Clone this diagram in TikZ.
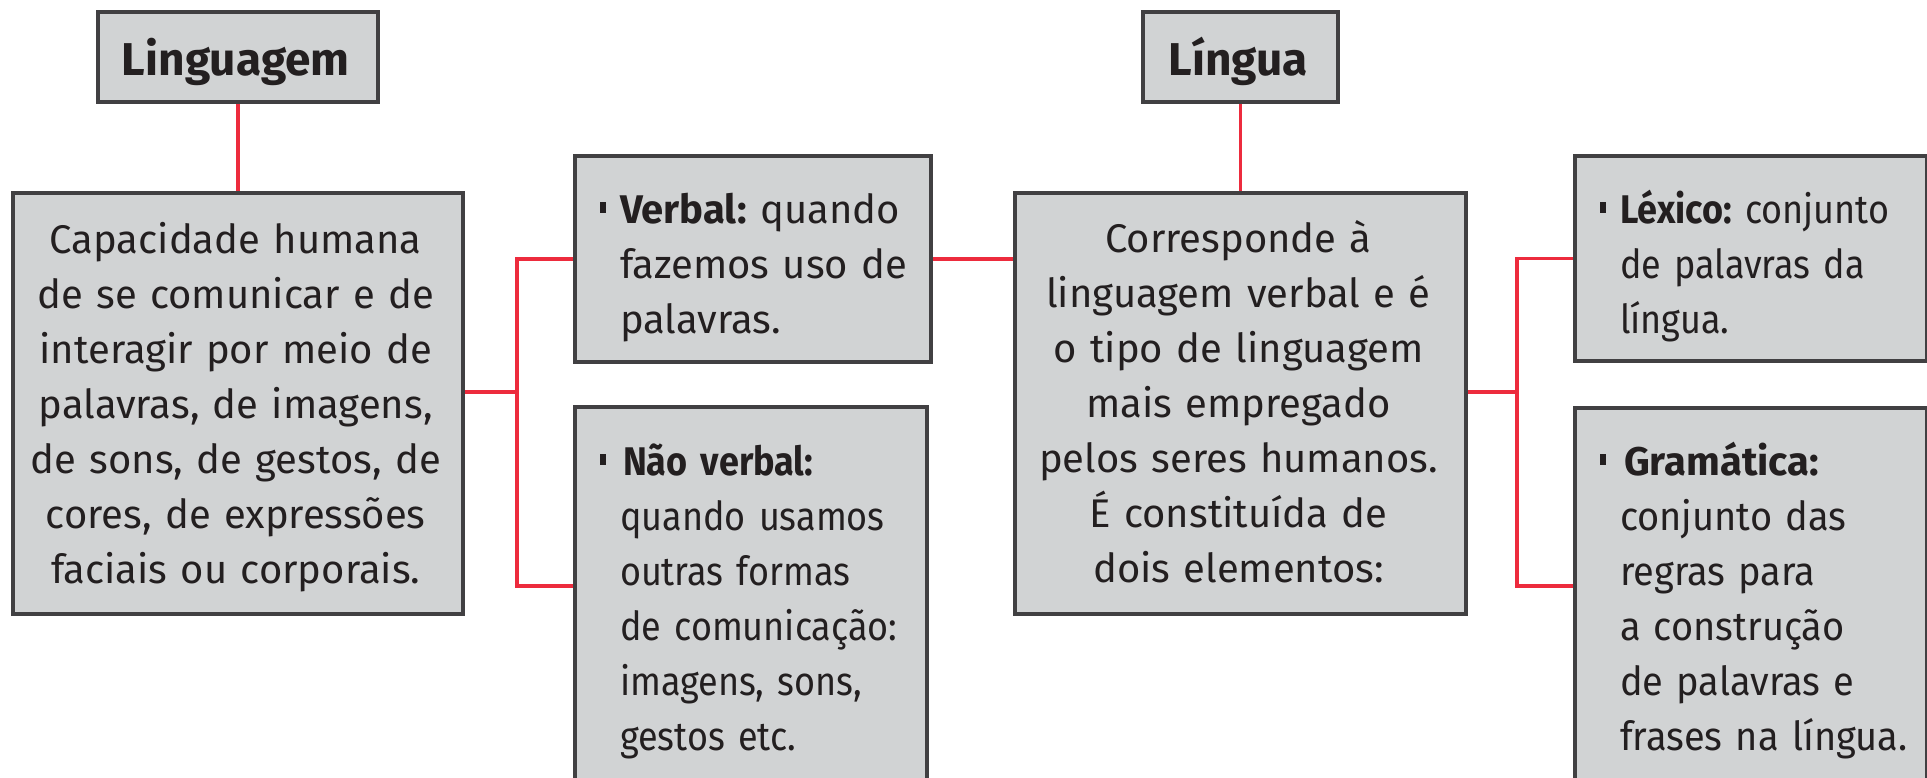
\documentclass[tikz,border=0pt]{standalone}
\usepackage{fontspec}
\setmainfont{Fira Sans}
\newfontfamily\condA[FakeStretch=0.9]{Fira Sans}
\newfontfamily\condB[FakeStretch=0.95]{Fira Sans}
\definecolor{boxfill}{RGB}{209,211,212}
\definecolor{boxline}{RGB}{65,64,66}
\definecolor{linkred}{RGB}{237,43,61}
\definecolor{ink}{RGB}{35,31,32}
\newcommand{\bul}{\llap{\raisebox{10pt}{\rule{6pt}{11pt}}\hspace{14pt}}}
\newcommand{\bmain}[1]{{\rmfamily\bfseries #1}}
\frenchspacing
\begin{document}
\begin{tikzpicture}[x=1pt,y=-1pt,
  box/.style={draw=boxline, fill=boxfill, line width=4pt, inner sep=0pt, outer sep=2pt, anchor=north west},
  link/.style={draw=linkred, line width=3.5pt, line join=miter},
  body/.style={text=ink, font=\fontsize{40}{55}\selectfont\frenchspacing, inner sep=0pt, outer sep=0pt},
  title/.style={text=ink, font=\fontsize{46}{50}\selectfont\bfseries, inner sep=0pt, anchor=base},
  ctext/.style={body, anchor=base, align=center, text width=440pt},
  ltext/.style={body, anchor=base west, align=left, text width=420pt},
  condtextA/.style={ltext, font=\condA\fontsize{40}{55}\selectfont\frenchspacing},
  condtextB/.style={ltext, font=\condB\fontsize{40}{55}\selectfont\frenchspacing}
]
\useasboundingbox (0,0) rectangle (1927,777);
\fill[white] (0,0) rectangle (1927,777);
\clip (0,0) rectangle (1927,777);

% boxes
\node[box, minimum width=280.5pt, minimum height=90pt] (ling) at (95.5,10) {};
\node[box, minimum width=450.5pt, minimum height=421pt] (cap) at (10.5,191) {};
\node[box, minimum width=356pt, minimum height=206pt] (verb) at (573,154) {};
\node[box, minimum width=351.5pt, minimum height=373pt] (nverb) at (573,405) {};
\node[box, minimum width=195pt, minimum height=90pt] (lingua) at (1141,10) {};
\node[box, minimum width=451pt, minimum height=421pt] (corr) at (1013,191) {};
\node[box, minimum width=352pt, minimum height=205pt] (lex) at (1573,154) {};
\node[box, minimum width=352pt, minimum height=372pt] (gram) at (1573,406) {};

% connectors
\coordinate (jl) at (517,392);
\coordinate (jlb) at (517,586);
\coordinate (jr) at (1517,392);
\coordinate (jrb) at (1517,586);
\draw[link] (ling.south) -- (cap.north);
\draw[link] (lingua.south) -- (corr.north);
\draw[link] (cap.east |- jl) -- (jl);
\draw[link] (verb.west) -| (jlb) -- (nverb.west |- jlb);
\draw[link] (verb.east) -- (corr.west |- verb.east);
\draw[link] (corr.east |- jr) -- (jr);
\draw[link] (lex.west) -| (jrb) -- (gram.west |- jrb);

% titles
\node[title] (tling) at (235.75,75) {Linguagem};
\node[title] (tlingua) at (1238.5,75) {Língua};

% texts
\node[ctext] (tcap) at (235.75,253) {Capacidade humana\\de se comunicar e de\\interagir por meio de\\palavras, de imagens,\\de sons, de gestos, de\\cores, de expressões\\faciais ou corporais.};
\node[ctext] (tcorr) at (1238.5,252) {Corresponde à\\linguagem verbal e é\\o tipo de linguagem\\mais empregado\\pelos seres humanos.\\É constituída de\\dois elementos:};
\node[ltext] (tverb) at (620,223) {\bul\textbf{Verbal:} quando\\fazemos uso de\\palavras.};
\node[condtextA] (tnverb) at (620,475) {\bul\hspace{3pt}\textbf{Não verbal:}\\quando usamos\\outras formas\\de comunicação:\\imagens, sons,\\gestos etc.};
\node[condtextA] (tlex) at (1620,223) {\bul\textbf{Léxico:} conjunto\\de palavras da\\língua.};
\node[condtextB] (tgram) at (1620,475) {\bul\hspace{4pt}\bmain{Gramática:}\\conjunto das\\regras para\\a construção\\de palavras e\\frases na língua.};
\end{tikzpicture}
\end{document}
